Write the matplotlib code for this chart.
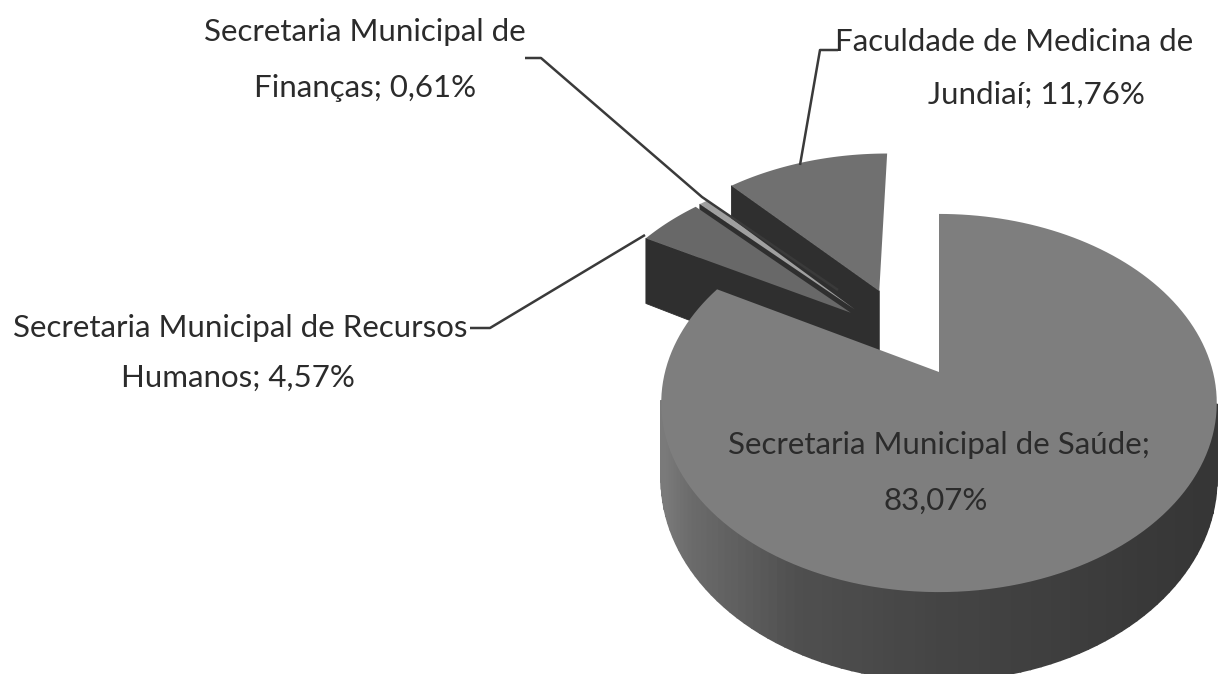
import numpy as np
import matplotlib.pyplot as plt

####################################
#               Data               #
####################################

names = ['Secretaria Municipal de Saúde', 'Secretaria Municipal de Recursos Humanos',
         'Secretaria Municipal de Finanças', 'Faculdade de Medicina de Jundiaí']
values = [83.07, 4.57, 0.61, 11.76]

####################################
#            Parameters            #
####################################

# Projection of the tilted pie, in pixels
cx, cy = 939, 372
rx, ry = 274, 184
persp = 0.164
depth = 74
# Explosion of every slice, in pie radii (right, back)
offsets = [(0, 0), (-0.34, 0.34), (-0.325, 0.36), (-0.235, 0.4745)]
top_colors = ['#7e7e7e', '#686868', '#a0a0a0', '#707070']
wall_color = '#2f2f2f'
txt_color = '#2b2b2b'
font = ['Lato', 'DejaVu Sans']

####################################
#             Functions            #
####################################

def project(u, v, down=0):
    d = 1 + persp * v
    return cx + rx * u / d, cy - ry * v / d + down * depth / d

def arc(off, a0, a1, n=160):
    t = np.radians(np.linspace(a0, a1, n))
    return off[0] + np.sin(t), off[1] + np.cos(t)

def draw_slice(ax, off, a0, a1, color, wall_start, outer=False):
    u, v = arc(off, a0, a1)
    # outer wall, only the front of the pie shows it
    if outer:
        for i in range(len(u) - 1):
            if v[i] > -0.16:
                continue
            x0, y0 = project(u[i], v[i])
            x1, y1 = project(u[i + 1], v[i + 1])
            x2, y2 = project(u[i + 1], v[i + 1], 1)
            x3, y3 = project(u[i], v[i], 1)
            # dark on the right, lighter towards the left of the pie
            s = (cx + rx - x0) / (2 * rx)
            c = np.interp(s, [0, 0.5, 0.75, 0.95, 1], [0.21, 0.27, 0.31, 0.42, 0.48])
            ax.fill([x0, x1, x2, x3], [y0, y1, y2, y3], color=(c, c, c), lw=1.2, zorder=2)
    # cut wall on the side that faces the viewer
    if wall_start:
        ax_, ay_ = project(off[0], off[1])
        bx_, by_ = project(off[0], off[1], 1)
        px, py = project(u[0], v[0])
        qx, qy = project(u[0], v[0], 1)
        ax.fill([ax_, px, qx, bx_], [ay_, py, qy, by_], color=wall_color, lw=0.6, zorder=2)
    # top face
    xs, ys = project(np.r_[off[0], u], np.r_[off[1], v])
    ax.fill(xs, ys, color=color, lw=0, zorder=2)

def label(i):
    return '{:.2f}%'.format(values[i]).replace('.', ',')

####################################
#               Main               #
####################################

fig = plt.figure(figsize=(12.18, 6.74), dpi=100, facecolor='w')
ax = fig.add_axes([0, 0, 1, 1])
ax.set_xlim(0, 1218)
ax.set_ylim(674, 0)
ax.axis('off')

edges = np.r_[0, np.cumsum(values)] * 360 / np.sum(values)

# back slices first, the big one covers them
for i in [3, 2, 1, 0]:
    draw_slice(ax, offsets[i], edges[i], edges[i + 1], top_colors[i], i in (1, 2, 3), outer=(i == 0))

# leader lines
lines = [([470, 490, 645], [328, 328, 235]),
         ([525, 541, 702, 838], [58, 58, 197, 290]),
         ([838, 820, 800], [50, 50, 165])]
for lx, ly in lines:
    ax.plot(lx, ly, color='#3a3a3a', lw=1.8, zorder=3, solid_capstyle='butt')

fs = 22.5
ax.text(939, 445, 'Secretaria Municipal de Saúde;', ha='center', va='center', fontsize=fs, color=txt_color, family=font, zorder=4)
ax.text(936, 501, label(0), ha='center', va='center', fontsize=fs, color=txt_color, family=font, zorder=4)
ax.text(240, 328, 'Secretaria Municipal de Recursos', ha='center', va='center', fontsize=fs, color=txt_color, family=font)
ax.text(238, 378, 'Humanos; ' + label(1), ha='center', va='center', fontsize=fs, color=txt_color, family=font)
ax.text(365, 32, 'Secretaria Municipal de', ha='center', va='center', fontsize=fs, color=txt_color, family=font)
ax.text(365, 88, 'Finanças; ' + label(2), ha='center', va='center', fontsize=fs, color=txt_color, family=font)
ax.text(1014, 42, 'Faculdade de Medicina de', ha='center', va='center', fontsize=fs, color=txt_color, family=font)
ax.text(1036, 95, 'Jundiaí; ' + label(3), ha='center', va='center', fontsize=fs, color=txt_color, family=font)

plt.savefig('out.png', dpi=100)
